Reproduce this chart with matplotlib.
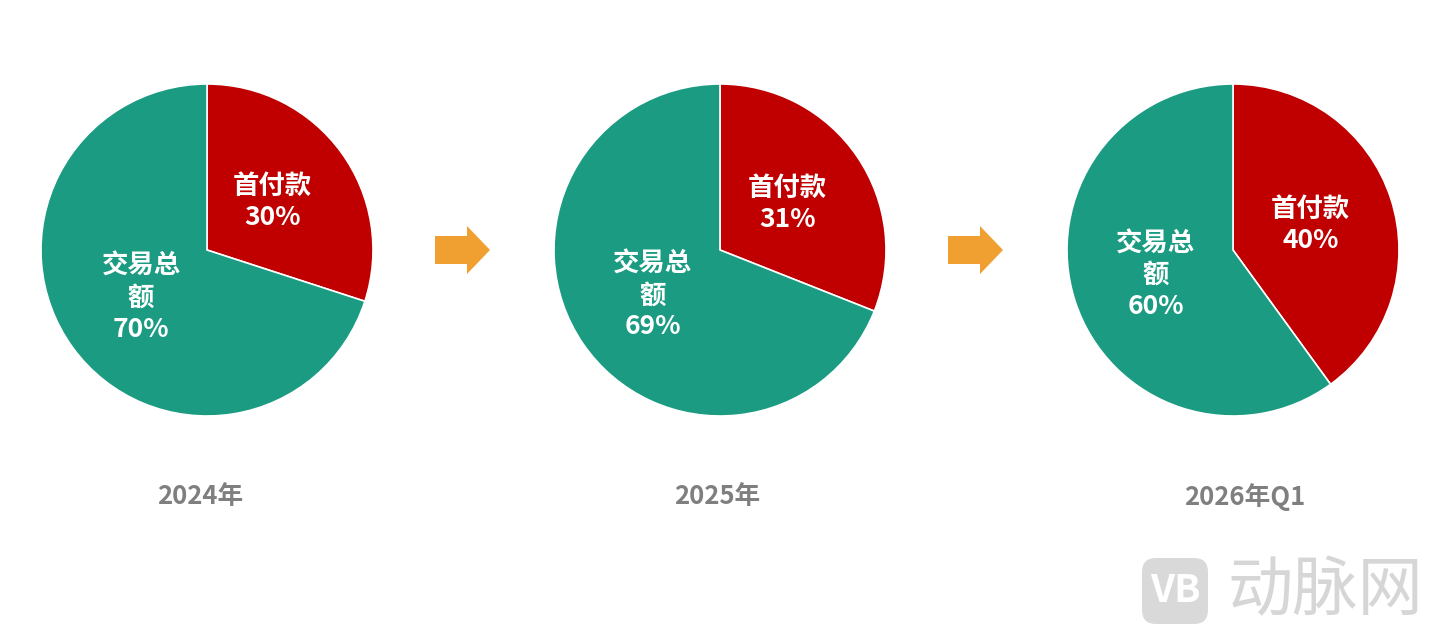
import matplotlib
matplotlib.use("Agg")
import matplotlib.pyplot as plt
from matplotlib.patches import FancyArrow, FancyBboxPatch

plt.rcParams['font.family'] = ['Noto Sans CJK SC', 'DejaVu Sans']

periods = ["2024年", "2025年", "2026年Q1"]
segment_names = ["首付款", "交易总\n额"]
down_payment = [30, 31, 40]
total_amount = [70, 69, 60]

red = "#C00000"
green = "#1A9B82"
orange = "#F0A030"

W, H = 1438, 638
fig = plt.figure(figsize=(W / 100, H / 100), dpi=100)
ax = fig.add_axes([0, 0, 1, 1])

centers_x = [207, 720, 1233]
label_shift = [-7, -3, 12]
cy = H - 250
radius = 166

for i, cx in enumerate(centers_x):
    vals = [down_payment[i], total_amount[i]]
    wedges, texts, autotexts = ax.pie(
        vals, colors=[red, green], startangle=90, counterclock=False,
        center=(cx, cy), radius=radius, autopct='%d%%', pctdistance=0.49,
        wedgeprops=dict(edgecolor="white", linewidth=1.2),
        textprops=dict(color="white", fontsize=19, fontweight="bold"))
    for t, name in zip(autotexts, segment_names):
        t.set_text(name + "\n" + t.get_text())
        t.set_linespacing(1.2)
    ax.text(cx + label_shift[i], H - 497, periods[i], ha="center", va="center",
            fontsize=18.5, fontweight="bold", color="#7F7F7F")

# arrows between pies
for x0 in [435, 948]:
    ax.add_patch(FancyArrow(x0, cy, 55, 0, width=28, head_width=48,
                            head_length=23, length_includes_head=True,
                            color=orange, linewidth=0))

# watermark
ax.add_patch(FancyBboxPatch((1142, H - 624), 66, 66,
                            boxstyle="round,pad=0,rounding_size=14",
                            facecolor="#D9D9D9", edgecolor="none"))
ax.text(1175, H - 591, "VB", ha="center", va="center", fontsize=28,
        fontweight="bold", color="white")
ax.text(1325, H - 592, "动脉网", ha="center", va="center", fontsize=47,
        color="#D6D6D6")

ax.set_xlim(0, W)
ax.set_ylim(0, H)
ax.set_aspect("auto")
ax.axis("off")

fig.savefig("out.png", dpi=100, facecolor="white")
